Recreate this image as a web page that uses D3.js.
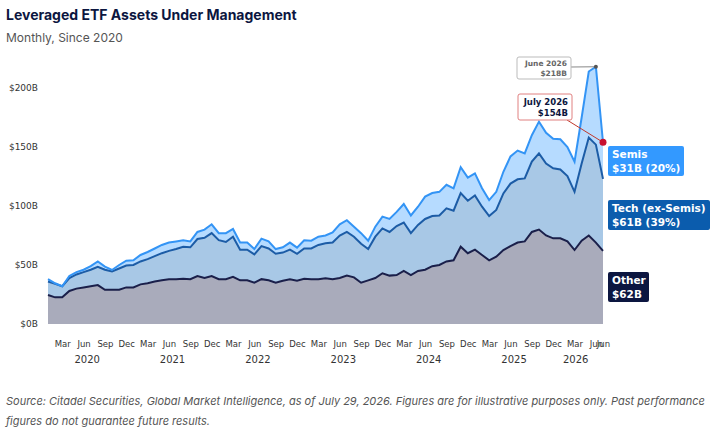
<!DOCTYPE html>
<html><head><meta charset="utf-8">
<script src="https://cdn.jsdelivr.net/npm/d3@7"></script>
<style>body{margin:0;background:#fff;font-family:"DejaVu Sans",sans-serif}</style>
</head><body><svg id="c" width="720" height="433"></svg>
<script>
const startYear = 2020; // first month: Jan 2020, monthly through Jul 2026
const otherVals = [24.6,22.6,22.6,28,30,31,32,33,29,29,29,31,
 31,33.6,34.5,36,37,38,38,38.4,38,40.7,39,40.7,
 38,38,40,37,37,35,38,37,35,36.7,38,36.7,
 38.4,38,38,38.7,38,39,41,39.5,35,37,39,43,
 41,41.5,45,41.5,45,46,49,50,53,54,65.5,60,
 63,58.5,54,57,62.7,66,69,70,78,80,75,72.6,
 72.6,70,62.7,70.6,75,69,62];
const techCum = [36,34,32,39,42,44,46,48.5,46,44.5,47,49.5,
 50,53,55,57.5,60,62,63.5,65.5,65,72,73,77,
 71,69.5,74,63,63,59,66,64,59.5,60.5,63,59.5,
 64,64,67,68.5,69,75,78,74,68,63.5,74,81,
 78,83,86,77,84,89,91.5,92,98,96,111,104.5,
 109,99.4,91.5,96.6,110.7,119,122.6,123.4,137.6,144.6,136,132,
 131,125.4,112,136,158,152,123];
const totalVals = [38,34.5,32,40.7,44,46,49,53,48.6,45.8,50,53.7,
 54,58.5,61,64,67,69,70,71,70,78,80,84.5,
 77,77,80.5,69,69,63.5,72.3,70,63.5,65,69,64.7,
 71,70.6,74,75,77.7,84.5,88,82.5,77,70.6,82.5,91,
 89,95,101.7,92,99.4,108,111,112,118,115,132.8,124,
 127.7,115,105,112,129,142,147,144.6,160,171.5,162,157,
 156.5,150,137.6,175,214,218,154];
const techVals = techCum.map((v,i)=>v-otherVals[i]);
const semisVals = totalVals.map((v,i)=>v-techCum[i]);
const monthNames = ["Jan","Feb","Mar","Apr","May","Jun","Jul","Aug","Sep","Oct","Nov","Dec"];
const yTicks = [0,50,100,150,200];
const seriesNames = ["Other","Tech (ex-Semis)","Semis"];

const data = otherVals.map((o,i)=>({i, other:o, tech:techVals[i], semis:semisVals[i]}));
const svg = d3.select("#c");
const x = d3.scaleLinear().domain([0,78]).range([48,603]);
const y = d3.scaleLinear().domain([0,200]).range([324,88]);
const stack = d3.stack().keys(["other","tech","semis"])(data);
const fills = ["#a9abbb","#a8c8e6","#b6dbff"];
const strokes = ["#1a1f4a","#1c5ca6","#3394f5"];
const area = d3.area().x(d=>x(d.data.i)).y0(d=>y(d[0])).y1(d=>y(d[1]));
const line = d3.line().x(d=>x(d.data.i)).y(d=>y(d[1]));
stack.forEach((s,k)=>svg.append("path").attr("d",area(s)).attr("fill",fills[k]));
stack.forEach((s,k)=>svg.append("path").attr("d",line(s)).attr("fill","none").attr("stroke",strokes[k]).attr("stroke-width",2));

// y axis
const ya = svg.append("g").attr("transform","translate(41,0)").call(d3.axisLeft(y).tickValues(yTicks).tickSize(0).tickFormat(d=>"$"+d+"B"));
ya.select(".domain").remove();
ya.selectAll("text").attr("font-size",9).attr("fill","#333").attr("font-family","DejaVu Sans");

// x axis month labels
const xt = d3.range(0,79).filter(i=>i%3===2);
xt.push(78);
const xa = svg.append("g").attr("transform","translate(0,338)").call(d3.axisBottom(x).tickValues(xt).tickSize(0).tickFormat(i=> i===78 ? "Jun" : monthNames[i%12]));
xa.select(".domain").remove();
xa.selectAll("text").attr("font-size",8.5).attr("fill","#333").attr("font-family","DejaVu Sans");
// year labels
d3.range(0,7).forEach(k=>{
  const ms = d3.range(k*12, Math.min(k*12+12,79));
  const cx = k===6 ? x(d3.mean(ms))-6 : x(d3.mean(ms));
  svg.append("text").attr("x",cx).attr("y",363).attr("text-anchor","middle").attr("font-size",10).attr("fill","#333").text(startYear+k);
});

// title
svg.append("text").attr("x",6).attr("y",20).attr("font-size",14).attr("font-weight","bold").attr("fill","#0c1640").attr("font-family","Inter, DejaVu Sans").text("Leveraged ETF Assets Under Management");
svg.append("text").attr("x",6).attr("y",42).attr("font-size",12).attr("fill","#555").attr("font-family","Inter, DejaVu Sans").text("Monthly, Since 2020");
const fn = svg.append("text").attr("font-size",11).attr("font-style","italic").attr("fill","#555").attr("font-family","Inter, DejaVu Sans");
fn.append("tspan").attr("x",6).attr("y",405).text("Source: Citadel Securities, Global Market Intelligence, as of July 29, 2026. Figures are for illustrative purposes only. Past performance");
fn.append("tspan").attr("x",6).attr("y",425).text("figures do not guarantee future results.");

// annotations
const pJun = [x(77), y(totalVals[77])], pJul = [x(78), y(totalVals[78])];
svg.append("line").attr("x1",571).attr("y1",67).attr("x2",pJun[0]).attr("y2",pJun[1]).attr("stroke","#888").attr("stroke-width",1);
svg.append("circle").attr("cx",pJun[0]).attr("cy",pJun[1]).attr("r",2).attr("fill","#555");
svg.append("rect").attr("x",517).attr("y",57).attr("width",54).attr("height",22).attr("rx",2).attr("fill","#fff").attr("stroke","#bbb");
svg.append("text").attr("x",567).attr("y",66).attr("text-anchor","end").attr("font-size",7.5).attr("font-weight","bold").attr("fill","#666").text("June 2026");
svg.append("text").attr("x",567).attr("y",76).attr("text-anchor","end").attr("font-size",7.5).attr("font-weight","bold").attr("fill","#666").text("$"+totalVals[77]+"B");
svg.append("line").attr("x1",567).attr("y1",120).attr("x2",pJul[0]).attr("y2",pJul[1]).attr("stroke","#c0392b").attr("stroke-width",1);
svg.append("circle").attr("cx",pJul[0]).attr("cy",pJul[1]).attr("r",3.5).attr("fill","#c8102e");
svg.append("rect").attr("x",518).attr("y",94).attr("width",54).attr("height",26).attr("rx",2).attr("fill","#fff").attr("stroke","#e08080");
svg.append("text").attr("x",568).attr("y",105).attr("text-anchor","end").attr("font-size",8.5).attr("font-weight","bold").attr("fill","#0c1640").text("July 2026");
svg.append("text").attr("x",568).attr("y",116).attr("text-anchor","end").attr("font-size",8.5).attr("font-weight","bold").attr("fill","#0c1640").text("$"+totalVals[78]+"B");

// right labels
const lbls = [
 {y:146,w:76,c:"#3399ff",l1:"Semis",l2:"$"+Math.round(semisVals[78])+"B (20%)"},
 {y:200,w:102,c:"#0b5cad",l1:"Tech (ex-Semis)",l2:"$"+Math.round(techVals[78])+"B (39%)"},
 {y:272,w:41,c:"#0c1640",l1:"Other",l2:"$"+Math.round(otherVals[78])+"B"}];
lbls.forEach(d=>{
  svg.append("rect").attr("x",608).attr("y",d.y).attr("width",d.w).attr("height",30).attr("rx",2).attr("fill",d.c);
  svg.append("text").attr("x",612).attr("y",d.y+12).attr("font-size",10.5).attr("font-weight","bold").attr("fill","#fff").text(d.l1);
  svg.append("text").attr("x",612).attr("y",d.y+26).attr("font-size",10.5).attr("font-weight","bold").attr("fill","#fff").text(d.l2);
});
</script></body></html>
